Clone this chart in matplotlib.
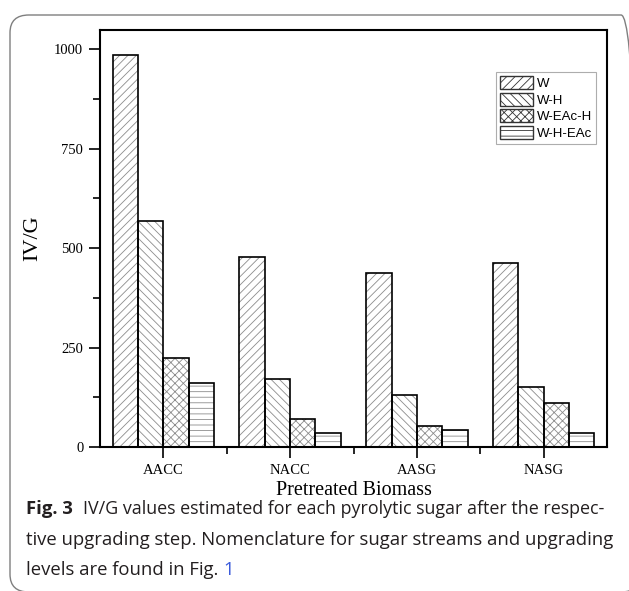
import matplotlib
matplotlib.use("Agg")
import matplotlib.pyplot as plt
from matplotlib.patches import FancyBboxPatch, Patch
from matplotlib.ticker import MultipleLocator, FixedLocator
import numpy as np

categories = ["AACC", "NACC", "AASG", "NASG"]
series_names = ["W", "W-H", "W-EAc-H", "W-H-EAc"]
W = [986, 478, 437, 463]
W_H = [568, 172, 130, 151]
W_EAc_H = [223, 71, 52, 110]
W_H_EAc = [161, 35, 43, 35]
series_values = [W, W_H, W_EAc_H, W_H_EAc]
hatches = ["////", "\\\\\\\\", "xxxx", "---"]
yticks = [0, 250, 500, 750, 1000]

plt.rcParams["hatch.linewidth"] = 0.6

fig = plt.figure(figsize=(6.29, 5.91), dpi=100)
ax = fig.add_axes([100/629, 1-447/591, 507/629, 417/591])

x = np.arange(1, len(categories) + 1)
bw = 0.2
handles = []
for i, (name, vals, h) in enumerate(zip(series_names, series_values, hatches)):
    pos = x + (i - 1.5) * bw
    ax.bar(pos, vals, width=bw, color="white", edgecolor="#8c8c8c",
           hatch=h, linewidth=0, zorder=2)
    ax.bar(pos, vals, width=bw, fill=False, edgecolor="black",
           linewidth=1.2, zorder=3)
    handles.append(Patch(facecolor="white", edgecolor="#333333", hatch=h,
                         linewidth=1.0, label=name))

ax.set_xlim(0.5, 4.5)
ax.set_ylim(0, 1048)
ax.set_xticks(x)
ax.set_xticklabels(categories, family="Liberation Serif", fontsize=10.5)
ax.xaxis.set_minor_locator(FixedLocator([1.5, 2.5, 3.5]))
ax.set_yticks(yticks)
ax.set_yticklabels([str(t) for t in yticks], family="Liberation Serif", fontsize=10.5)
ax.yaxis.set_minor_locator(MultipleLocator(125))
ax.tick_params(which="major", direction="out", length=8, width=1.2, pad=4)
ax.tick_params(which="minor", direction="out", length=5, width=1.2)
for s in ax.spines.values():
    s.set_linewidth(1.5)

ax.set_xlabel("Pretreated Biomass", family="Liberation Serif", fontsize=14.5, labelpad=3)
ax.set_ylabel("IV/G", family="Liberation Serif", fontsize=16)
ax.yaxis.set_label_coords((42-100)/507, 0.5)

leg = ax.legend(handles=handles, loc="upper right",
                bbox_to_anchor=(596/629, 1-72/591), bbox_transform=fig.transFigure,
                borderaxespad=0, fancybox=False, frameon=True,
                prop={"family": "Liberation Sans", "size": 9.5},
                handlelength=2.5, handleheight=1.15, labelspacing=0.2,
                handletextpad=0.3, borderpad=0.3)
leg.get_frame().set_edgecolor("#999999")
leg.get_frame().set_linewidth(0.8)

# outer rounded frame
frame = FancyBboxPatch((10/629, 1-592/591), 630/629, 577/591,
                       boxstyle="round,pad=0,rounding_size=0.03",
                       transform=fig.transFigure, fill=False,
                       edgecolor="#7f7f7f", linewidth=1.0)
fig.add_artist(frame)

cap_font = "Open Sans"
cs = 13.3
col = "#231f20"
t1 = fig.text(26/629, 1-509/591, "Fig. 3", family=cap_font, fontweight="bold",
              fontsize=cs, va="center", ha="left", color=col)
fig.canvas.draw()
bb1 = t1.get_window_extent()
fig.text((bb1.x1 + 10)/629, 1-509/591,
         "IV/G values estimated for each pyrolytic sugar after the respec-",
         family=cap_font, fontsize=12.9, va="center", ha="left", color=col)
fig.text(26/629, 1-540/591, "tive upgrading step. Nomenclature for sugar streams and upgrading",
         family=cap_font, fontsize=cs, va="center", ha="left", color=col)
t3 = fig.text(26/629, 1-570/591, "levels are found in Fig. ",
              family=cap_font, fontsize=cs, va="center", ha="left", color=col)
fig.canvas.draw()
bb = t3.get_window_extent()
fig.text(bb.x1/629, 1-570/591, "1", family=cap_font, fontsize=cs,
         va="center", ha="left", color="#3b5bdb")

fig.savefig("out.png", dpi=100)
